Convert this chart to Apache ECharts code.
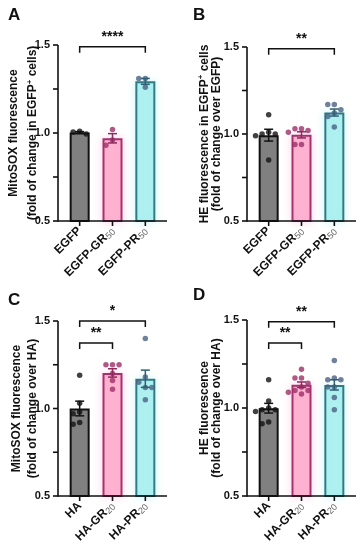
<!DOCTYPE html>
<html><head><meta charset="utf-8">
<script src="https://cdn.jsdelivr.net/npm/echarts@6/dist/echarts.min.js"></script>
<style>html,body{margin:0;padding:0;background:#fff}#c{width:363px;height:550px}</style>
</head><body><div id="c"></div>
<script>
// ---------- data ----------
const catsEGFP = ['EGFP', 'EGFP-GR50', 'EGFP-PR50'];
const catsHA = ['HA', 'HA-GR20', 'HA-PR20'];
const yTickLabels = [0.5, 1.0, 1.5];

// individual points per group (fold change)
const ptsA = [
  [1.01, 1.005, 0.995],
  [1.02, 0.96, 0.93],
  [1.31, 1.31, 1.26]
];
const ptsB = [
  [1.11, 1.01, 1.00, 1.00, 0.99, 0.85],
  [1.03, 1.03, 1.02, 1.01, 0.94, 0.94],
  [1.17, 1.17, 1.14, 1.12, 1.10, 1.04]
];
const ptsC = [
  [1.19, 1.03, 0.98, 0.97, 0.92, 0.91],
  [1.25, 1.25, 1.25, 1.20, 1.16, 1.11],
  [1.40, 1.18, 1.15, 1.12, 1.12, 1.05]
];
const ptsD = [
  [1.16, 1.04, 1.00, 0.99, 0.99, 0.98, 0.92, 0.91],
  [1.22, 1.17, 1.17, 1.14, 1.12, 1.10, 1.10, 1.09, 1.08],
  [1.27, 1.17, 1.16, 1.16, 1.12, 1.12, 1.06, 0.99]
];

// significance: [fromGroup, toGroup, level, label]
const sigA = [[0, 2, 1.49, '****']];
const sigB = [[0, 2, 1.49, '**']];
const sigC = [[0, 2, 1.50, '*'], [0, 1, 1.375, '**']];
const sigD = [[0, 2, 1.49, '**'], [0, 1, 1.37, '**']];

// ---------- styles ----------
const fills = ['#808080', '#ffb3d1', '#b0f1f1'];
const borders = ['#111111', '#a5326d', '#2f7b84'];
const dotColors = ['#111111', '#9e2f68', '#4b6184'];
const errColors = ['#111111', '#8c2a5c', '#2f5f70'];
const FONT = '"Liberation Sans", Arial, sans-serif';
const YMIN = 0.5, YMAX = 1.5, YSTEP = 0.25;
const XMIN = -0.66, XMAX = 2.66;
const yTickVals = [];
for (let v = YMIN; v <= YMAX + 1e-9; v += YSTEP) yTickVals.push(v);

const panels = [
  { letter: 'A', lx: 8, ly: 7, grid: { left: 58, top: 45, width: 109, height: 176 }, cats: catsEGFP, pts: ptsA, sig: sigA,
    name: ['MitoSOX fluorescence', '(fold of change in EGFP', '+', ' cells)'], lh: 19, gap: 16 },
  { letter: 'B', lx: 193, ly: 7, grid: { left: 247, top: 47, width: 109, height: 174 }, cats: catsEGFP, pts: ptsB, sig: sigB,
    name: ['HE fluorescence in EGFP', '+', ' cells', '(fold of change over EGFP)'], lh: 12.5, gap: 24, supFirst: true },
  { letter: 'C', lx: 8, ly: 292, grid: { left: 58, top: 321, width: 109, height: 175 }, cats: catsHA, pts: ptsC, sig: sigC,
    name: ['MitoSOX fluorescence', '(fold of change over HA)'], lh: 16, gap: 17 },
  { letter: 'D', lx: 193, ly: 287, grid: { left: 247, top: 320, width: 109, height: 176 }, cats: catsHA, pts: ptsD, sig: sigD,
    name: ['HE fluorescence', '(fold of change over HA)'], lh: 12, gap: 24 }
];

function stats(arr) {
  const n = arr.length;
  const m = arr.reduce((a, b) => a + b, 0) / n;
  const sd = Math.sqrt(arr.reduce((a, b) => a + (b - m) * (b - m), 0) / (n - 1));
  return { mean: m, sem: sd / Math.sqrt(n) };
}

// simple beeswarm placement (in data units)
function swarm(vals, pxPerX, pxPerY) {
  const order = vals.map((v, i) => i).sort((a, b) => vals[b] - vals[a]);
  const placed = [];
  const res = new Array(vals.length);
  const cands = [0, -0.2, 0.2, -0.4, 0.4, -0.55, 0.55];
  order.forEach(i => {
    for (const c of cands) {
      const ok = placed.every(p => {
        const dx = (p.x - c) * pxPerX, dy = (p.y - vals[i]) * pxPerY;
        return dx * dx + dy * dy >= 6.2 * 6.2;
      });
      if (ok) { res[i] = c; placed.push({ x: c, y: vals[i] }); return; }
    }
    res[i] = 0; placed.push({ x: 0, y: vals[i] });
  });
  return res;
}

function catLabel(s) {
  const m = s.match(/^(.*?)(\d+)$/);
  if (m) return '{b|' + m[1] + '}{s|' + m[2] + '}';
  return '{b|' + s + '}';
}

const grids = [], xAxes = [], yAxes = [], series = [], graphics = [];

panels.forEach((p, k) => {
  grids.push(p.grid);
  const pxPerX = p.grid.width / (XMAX - XMIN);
  const pxPerY = p.grid.height / (YMAX - YMIN);
  let nameStr;
  if (p.supFirst) {
    nameStr = '{b|' + p.name[0] + '}{sup|' + p.name[1] + '}{b|' + p.name[2] + '}\n{b|' + p.name[3] + '}';
  } else if (p.name.length === 4) {
    nameStr = '{b|' + p.name[0] + '}\n{b|' + p.name[1] + '}{sup|' + p.name[2] + '}{b|' + p.name[3] + '}';
  } else {
    nameStr = '{b|' + p.name[0] + '}\n{b|' + p.name[1] + '}';
  }
  xAxes.push({
    gridIndex: k, type: 'value', min: XMIN, max: XMAX,
    splitLine: { show: false },
    axisLine: { show: false, onZero: false },
    axisTick: { show: false },
    axisLabel: {
      customValues: [0, 1, 2], rotate: 45, margin: 8,
      formatter: v => catLabel(p.cats[Math.round(v)]),
      rich: {
        b: { fontFamily: FONT, fontWeight: 'bold', fontSize: 12, color: '#111' },
        s: { fontFamily: FONT, fontSize: 9, color: '#666', padding: [5, 0, 0, 0] }
      }
    }
  });
  yAxes.push({
    gridIndex: k, type: 'value', min: YMIN, max: YMAX, interval: YSTEP,
    splitLine: { show: false },
    axisLine: { show: false, onZero: false },
    axisTick: { show: false },
    axisLabel: {
      margin: 8, fontFamily: FONT, fontWeight: 'bold', fontSize: 11, color: '#111',
      formatter: v => yTickLabels.some(t => Math.abs(t - v) < 1e-9) ? v.toFixed(1) : ''
    },
    name: nameStr, nameLocation: 'middle', nameRotate: 90, nameGap: p.gap, nameMoveOverlap: false,
    nameTextStyle: {
      rich: {
        b: { fontFamily: FONT, fontWeight: 'bold', fontSize: 12, color: '#111', lineHeight: p.lh },
        sup: { fontFamily: FONT, fontWeight: 'bold', fontSize: 8, color: '#111', lineHeight: p.lh, padding: [0, 0, 6, 0] }
      }
    }
  });

  const st = p.pts.map(stats);
  // bars
  series.push({
    type: 'bar', xAxisIndex: k, yAxisIndex: k, barWidth: 20, z: 2, silent: true,
    data: st.map((s, j) => ({
      value: [j, s.mean],
      itemStyle: {
        color: fills[j], borderColor: borders[j], borderWidth: 2,
        shadowBlur: j === 0 ? 0 : 8, shadowColor: j === 1 ? 'rgba(255,140,200,0.35)' : 'rgba(120,230,240,0.35)'
      }
    }))
  });
  // dots
  p.pts.forEach((vals, j) => {
    const off = swarm(vals, pxPerX, pxPerY);
    series.push({
      type: 'scatter', xAxisIndex: k, yAxisIndex: k, symbolSize: 5.5, z: 4, silent: true,
      itemStyle: { color: dotColors[j] },
      data: vals.map((v, i) => [j + off[i], v])
    });
  });
  // error bars (mean ± SEM)
  series.push({
    type: 'custom', xAxisIndex: k, yAxisIndex: k, z: 5, silent: true,
    data: st.map((s, j) => [j, s.mean - s.sem, s.mean + s.sem]),
    renderItem: (params, api) => {
      const j = params.dataIndex;
      const x = api.value(0);
      const a = api.coord([x, api.value(2)]), b = api.coord([x, api.value(1)]);
      const c = 4.5, col = errColors[j];
      const ls = { stroke: col, lineWidth: 1.5 };
      return { type: 'group', children: [
        { type: 'line', shape: { x1: a[0], y1: a[1], x2: b[0], y2: b[1] }, style: ls },
        { type: 'line', shape: { x1: a[0] - c, y1: a[1], x2: a[0] + c, y2: a[1] }, style: ls },
        { type: 'line', shape: { x1: b[0] - c, y1: b[1], x2: b[0] + c, y2: b[1] }, style: ls }
      ]};
    }
  });
  // axis frame (lines + ticks) drawn through the axis scales
  series.push({
    type: 'custom', xAxisIndex: k, yAxisIndex: k, z: 7, silent: true, clip: false,
    data: [[XMIN, YMIN]],
    renderItem: (params, api) => {
      const o = api.coord([XMIN, YMIN]), xe = api.coord([XMAX, YMIN]), yt = api.coord([XMIN, YMAX]);
      const ls = { stroke: '#111', lineWidth: 1.6 };
      const ch = [
        { type: 'line', shape: { x1: o[0], y1: o[1], x2: xe[0], y2: xe[1] }, style: ls },
        { type: 'line', shape: { x1: o[0], y1: o[1] + 0.8, x2: yt[0], y2: yt[1] }, style: ls }
      ];
      yTickVals.forEach(v => {
        const q = api.coord([XMIN, v]);
        ch.push({ type: 'line', shape: { x1: q[0] - 5, y1: q[1], x2: q[0], y2: q[1] }, style: ls });
      });
      [0, 1, 2].forEach(i => {
        const q = api.coord([i, YMIN]);
        ch.push({ type: 'line', shape: { x1: q[0], y1: q[1], x2: q[0], y2: q[1] + 5 }, style: ls });
      });
      return { type: 'group', children: ch };
    }
  });
  // significance brackets
  series.push({
    type: 'custom', xAxisIndex: k, yAxisIndex: k, z: 6, silent: true, clip: false,
    data: p.sig.map(s => [s[0], s[1], s[2]]),
    renderItem: (params, api) => {
      const s = p.sig[params.dataIndex];
      const a = api.coord([s[0], s[2]]), b = api.coord([s[1], s[2]]);
      const leg = 6;
      const ls = { stroke: '#111', lineWidth: 1.5, fill: null };
      return { type: 'group', children: [
        { type: 'polyline', shape: { points: [[a[0], a[1] + leg], [a[0], a[1]], [b[0], b[1]], [b[0], b[1] + leg]] }, style: ls },
        { type: 'text', style: { text: s[3], x: (a[0] + b[0]) / 2, y: a[1] - 3, align: 'center', verticalAlign: 'bottom',
          font: 'bold 14px ' + FONT, fill: '#111' } }
      ]};
    }
  });
  graphics.push({ type: 'text', left: p.lx, top: p.ly, style: { text: p.letter, font: 'bold 17px ' + FONT, fill: '#111' } });
});

const chart = echarts.init(document.getElementById('c'), null, { renderer: 'canvas' });
chart.setOption({
  animation: false,
  grid: grids, xAxis: xAxes, yAxis: yAxes, series: series, graphic: graphics
});
</script></body></html>
